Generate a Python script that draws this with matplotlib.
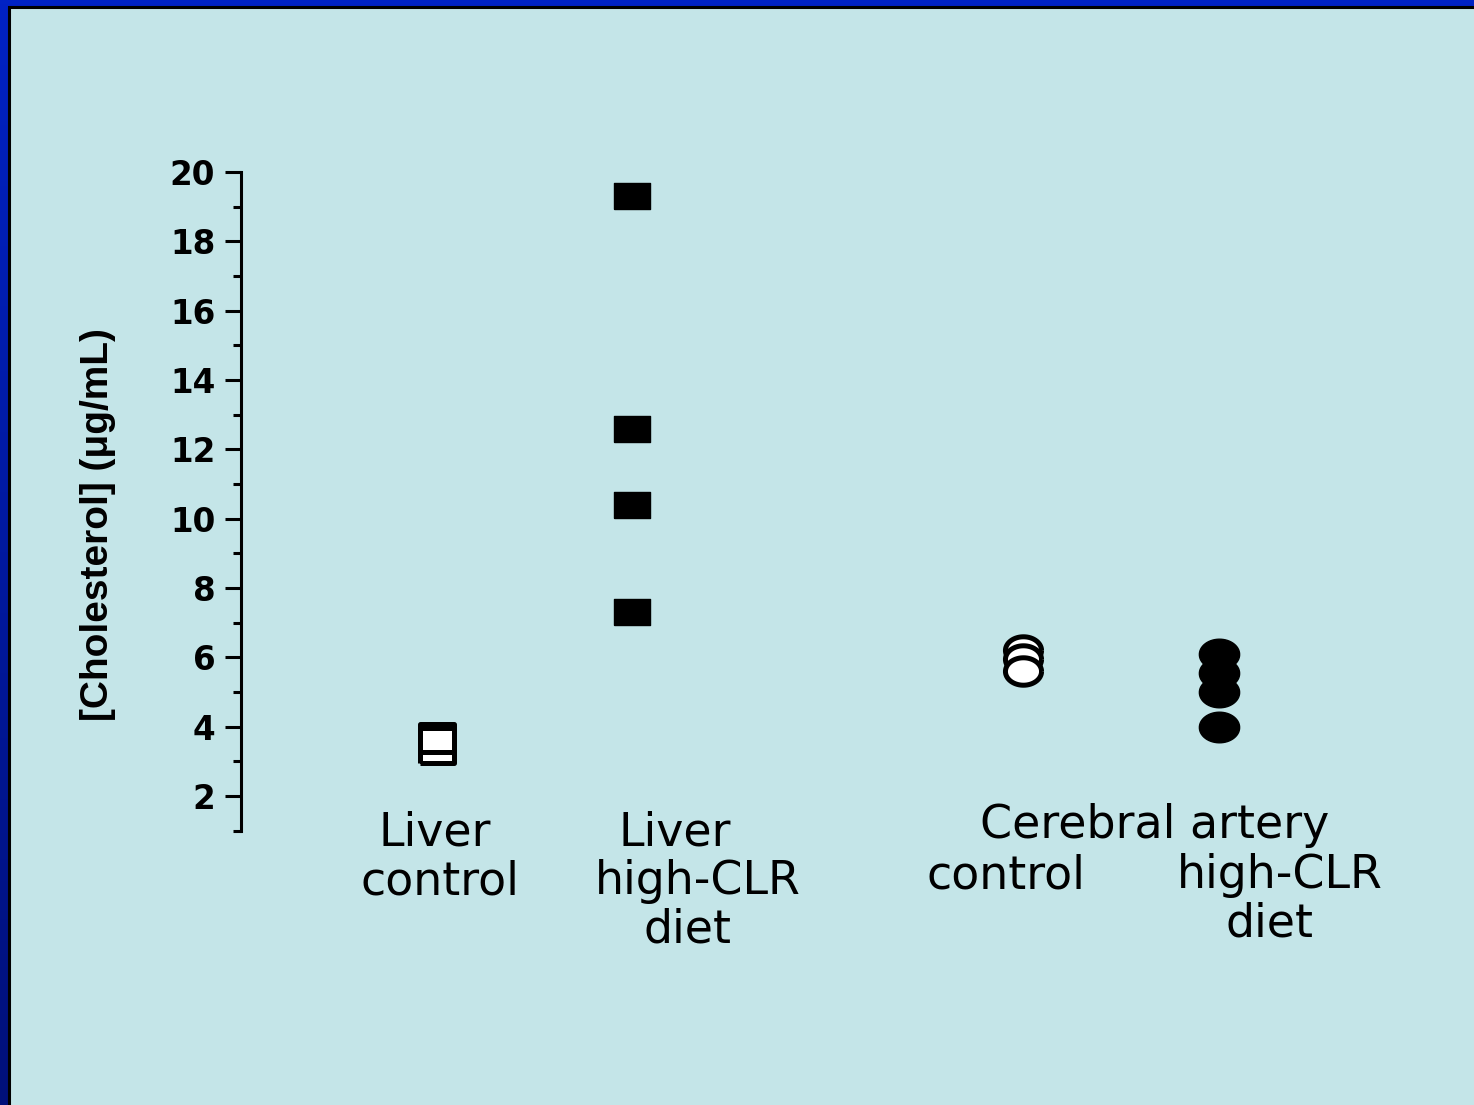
import numpy as np
import matplotlib
matplotlib.use('Agg')
import matplotlib.pyplot as plt
from matplotlib.patches import Rectangle
from matplotlib.ticker import MultipleLocator

# cholesterol measurements (ug/mL) per group
liver_control = [3.3, 3.72, 3.62]
liver_high_clr = [19.3, 12.6, 10.4, 7.3]
artery_control = [6.2, 5.95, 5.6]
artery_high_clr = [6.1, 5.55, 5.0, 4.0]

group_x = [1, 2, 4, 5]
y_ticks = [2, 4, 6, 8, 10, 12, 14, 16, 18, 20]
y_label = '[Cholesterol] (\u03bcg/mL)'

W, H, DPI = 1474, 1105, 100
fig = plt.figure(figsize=(W / DPI, H / DPI), dpi=DPI)

# slide frame: blue border + light panel
bg = fig.add_axes([0, 0, 1, 1], zorder=-1)
bg.set_xlim(0, W)
bg.set_ylim(H, 0)
bg.axis('off')
grad = np.linspace(0, 1, 256)[:, None]
cmap = matplotlib.colors.LinearSegmentedColormap.from_list('frame', ['#0022C4', '#00107A'])
bg.imshow(grad, cmap=cmap, extent=[0, W, H, 0], aspect='auto')
bg.add_patch(Rectangle((9, 7), W, H, facecolor='#C4E5E8', edgecolor='black', linewidth=2.2))

# scatter markers are stretched sideways, so build custom shapes
rect = [(-1, -0.7), (1, -0.7), (1, 0.7), (-1, 0.7), (-1, -0.7)]
t = np.linspace(0, 2 * np.pi, 60)
ellipse = list(zip(np.cos(t), 0.76 * np.sin(t)))

ax = fig.add_axes([241 / W, 1 - 830.7 / H, 6 * 195.5 / W, 658.7 / H])
ax.patch.set_alpha(0)

ax.plot([group_x[0]] * len(liver_control), liver_control, ls='none', marker=rect,
        ms=24, mfc='white', mec='black', mew=3.6)
ax.plot([group_x[1]] * len(liver_high_clr), liver_high_clr, ls='none', marker=rect,
        ms=26, mfc='black', mec='black', mew=1)
ax.plot([group_x[2]] * len(artery_control), artery_control, ls='none', marker=ellipse,
        ms=26, mfc='white', mec='black', mew=3.6)
ax.plot([group_x[3]] * len(artery_high_clr), artery_high_clr, ls='none', marker=ellipse,
        ms=29, mfc='black', mec='black', mew=1)

ax.set_xlim(0, 6)
ax.set_ylim(1, 20)
for s in ['top', 'right', 'bottom']:
    ax.spines[s].set_visible(False)
ax.spines['left'].set_linewidth(2.2)
ax.set_xticks([])
ax.set_yticks(y_ticks)
ax.yaxis.set_minor_locator(MultipleLocator(1))
ax.tick_params(axis='y', which='major', length=11.5, width=2.2, pad=7,
               labelsize=23.5)
ax.tick_params(axis='y', which='minor', length=6, width=2.2)
for lab in ax.get_yticklabels():
    lab.set_fontweight('bold')

fig.text(98 / W, 1 - 525 / H, y_label, rotation=90, ha='center', va='center',
         fontsize=28, fontweight='bold', family=['Liberation Sans', 'DejaVu Sans'])

# category captions below the axis
cap = dict(fontsize=33, ha='center', va='center', color='black')
fig.text(435 / W, 1 - 833 / H, 'Liver', **cap)
fig.text(440 / W, 1 - 882 / H, 'control', **cap)
fig.text(675 / W, 1 - 833 / H, 'Liver', **cap)
fig.text(698 / W, 1 - 882 / H, 'high-CLR', **cap)
fig.text(688 / W, 1 - 930 / H, 'diet', **cap)
fig.text(1155 / W, 1 - 825 / H, 'Cerebral artery', **cap)
fig.text(1006 / W, 1 - 876 / H, 'control', **cap)
fig.text(1280 / W, 1 - 876 / H, 'high-CLR', **cap)
fig.text(1270 / W, 1 - 924 / H, 'diet', **cap)

fig.savefig('out.png', dpi=DPI)
